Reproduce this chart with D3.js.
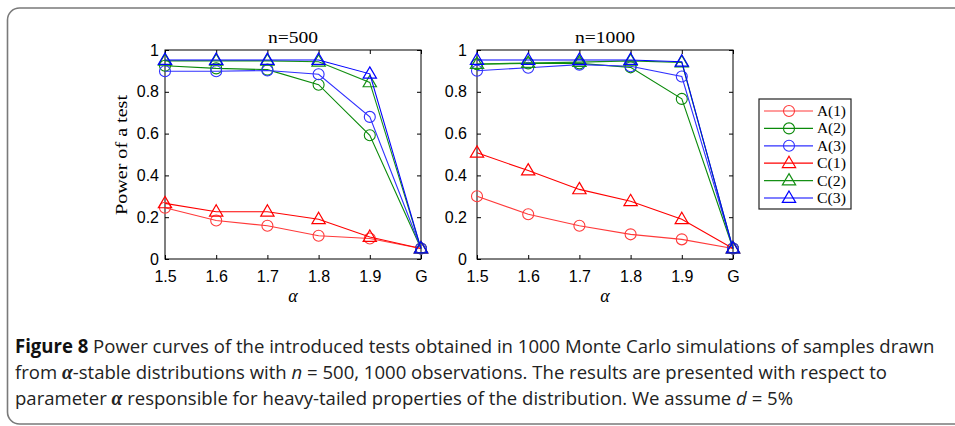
<!DOCTYPE html>
<html><head><meta charset="utf-8">
<script src="https://cdn.jsdelivr.net/npm/d3@7"></script>
<style>body{margin:0;background:#fff;}svg{display:block;}</style>
</head><body>
<svg id="c" width="955" height="426"></svg>
<script>
const categories = ["1.5","1.6","1.7","1.8","1.9","G"];
const yTicks = [0,0.2,0.4,0.6,0.8,1];
const yTickLabels = ["0","0.2","0.4","0.6","0.8","1"];
const seriesNames = ["A(1)","A(2)","A(3)","C(1)","C(2)","C(3)"];
const seriesColors = ["#ff3a3a","#0a8a0a","#3030ff","#ff0000","#159015","#0000ff"];
const seriesMarkers = ["circle","circle","circle","triangle","triangle","triangle"];
const panelTitles = ["n=500","n=1000"];

// n = 500
const a1_500 = [0.245,0.184,0.159,0.111,0.098,0.05];
const a2_500 = [0.925,0.912,0.906,0.834,0.592,0.05];
const a3_500 = [0.898,0.898,0.902,0.884,0.680,0.05];
const c1_500 = [0.266,0.226,0.226,0.190,0.105,0.05];
const c2_500 = [0.948,0.948,0.948,0.944,0.845,0.05];
const c3_500 = [0.952,0.952,0.952,0.952,0.886,0.05];
// n = 1000
const a1_1000 = [0.300,0.214,0.159,0.118,0.094,0.05];
const a2_1000 = [0.932,0.936,0.936,0.917,0.766,0.05];
const a3_1000 = [0.901,0.915,0.930,0.922,0.873,0.05];
const c1_1000 = [0.508,0.423,0.333,0.276,0.190,0.05];
const c2_1000 = [0.933,0.938,0.942,0.948,0.940,0.05];
const c3_1000 = [0.952,0.952,0.952,0.952,0.944,0.05];

const panelData = [
  [a1_500,a2_500,a3_500,c1_500,c2_500,c3_500],
  [a1_1000,a2_1000,a3_1000,c1_1000,c2_1000,c3_1000]
];

const svg = d3.select("#c");
const serif = "'Liberation Serif','DejaVu Serif',serif";
const sans = "'Liberation Sans',Arial,sans-serif";

svg.append("rect").attr("x",7.5).attr("y",8).attr("width",960).attr("height",416)
  .attr("rx",12).attr("fill","none").attr("stroke","#7a7a7a").attr("stroke-width",1.6);

const panels = [{x0:165,x1:421,labelGap:6},{x0:477,x1:733,labelGap:10}];
const yTop = 50, yBot = 259;
const y = d3.scaleLinear().domain([0,1]).range([yBot,yTop]);

function drawMarker(g, type, cx, cy, color){
  if(type==="circle"){
    g.append("circle").attr("cx",cx).attr("cy",cy).attr("r",5.5)
      .attr("fill","none").attr("stroke",color).attr("stroke-width",1.1);
  } else {
    const s = 7;
    g.append("path").attr("d",`M${cx},${cy-s}L${cx+s*0.95},${cy+s*0.62}L${cx-s*0.95},${cy+s*0.62}Z`)
      .attr("fill","none").attr("stroke",color).attr("stroke-width",1.2);
  }
}

panels.forEach((p,pi)=>{
  const x = d3.scalePoint().domain(categories).range([p.x0,p.x1]).padding(0);
  const g = svg.append("g");
  g.append("rect").attr("x",p.x0).attr("y",yTop).attr("width",p.x1-p.x0).attr("height",yBot-yTop)
    .attr("fill","none").attr("stroke","#000").attr("stroke-width",1);
  const ax = g.append("g").attr("transform",`translate(0,${yBot})`)
    .call(d3.axisBottom(x).tickSizeInner(-4).tickSizeOuter(0).tickPadding(12));
  const axT = g.append("g").attr("transform",`translate(0,${yTop})`)
    .call(d3.axisTop(x).tickSizeInner(-4).tickSizeOuter(0).tickFormat(""));
  const ay = g.append("g").attr("transform",`translate(${p.x0},0)`)
    .call(d3.axisLeft(y).tickValues(yTicks).tickFormat((d,i)=>yTickLabels[i]).tickSizeInner(-4).tickSizeOuter(0).tickPadding(p.labelGap));
  const ayR = g.append("g").attr("transform",`translate(${p.x1},0)`)
    .call(d3.axisRight(y).tickValues(yTicks).tickSizeInner(-4).tickSizeOuter(0).tickFormat(""));
  [ax,axT,ay,ayR].forEach(a=>{
    a.select(".domain").remove();
    a.selectAll("line").attr("stroke","#000");
    a.selectAll("text").attr("font-family",sans).attr("font-size",16).attr("fill","#000");
  });
  g.append("text").attr("x",(p.x0+p.x1)/2).attr("y",43).attr("text-anchor","middle")
    .attr("font-family",serif).attr("font-size",17)
    .attr("textLength",pi===0?50:60).attr("lengthAdjust","spacingAndGlyphs").text(panelTitles[pi]);
  g.append("text").attr("x",(p.x0+p.x1)/2).attr("y",302).attr("text-anchor","middle")
    .attr("font-family",serif).attr("font-style","italic").attr("font-size",18).text("α");
  if(pi===0){
    g.append("text").attr("transform",`translate(127,155) rotate(-90)`).attr("text-anchor","middle")
      .attr("font-family",serif).attr("font-size",17)
      .attr("textLength",120).attr("lengthAdjust","spacingAndGlyphs").text("Power of a test");
  }
  const line = d3.line().x((d,i)=>x(categories[i])).y(d=>y(d));
  panelData[pi].forEach((vals,si)=>{
    const sg = g.append("g");
    sg.append("path").attr("d",line(vals)).attr("fill","none")
      .attr("stroke",seriesColors[si]).attr("stroke-width",1.1);
    vals.forEach((v,i)=>drawMarker(sg,seriesMarkers[si],x(categories[i]),y(v),seriesColors[si]));
  });
});

const lg = svg.append("g");
lg.append("rect").attr("x",759).attr("y",99).attr("width",92).attr("height",110)
  .attr("fill","#fff").attr("stroke","#222").attr("stroke-width",1.2);
const legY = d3.scalePoint().domain(seriesNames).range([111,198]);
seriesNames.forEach((n,i)=>{
  const yy = legY(n);
  lg.append("line").attr("x1",764).attr("x2",813).attr("y1",yy).attr("y2",yy)
    .attr("stroke",seriesColors[i]).attr("stroke-width",1.2);
  drawMarker(lg,seriesMarkers[i],789,yy,seriesColors[i]);
  lg.append("text").attr("x",817).attr("y",yy+5).attr("font-family",serif).attr("font-size",15.5)
    .attr("textLength",29).attr("lengthAdjust","spacingAndGlyphs").text(n);
});

// caption: uniform horizontal condensing, computed from first line width
const capFont = "'Open Sans','Noto Sans',sans-serif";
const cap = svg.append("g").attr("font-family",capFont).attr("font-size",19).attr("fill","#222");
function capLine(yb, parts){
  const g = cap.append("g").attr("data-y",yb);
  const t = g.append("text").attr("x",0).attr("y",0);
  parts.forEach(([txt,style])=>{
    const s = t.append("tspan").text(txt);
    if(style==="b") s.attr("font-weight","bold").attr("fill","#111");
    if(style==="i") s.attr("font-style","italic");
    if(style==="a") s.attr("font-family",serif).attr("font-weight","bold").attr("font-style","italic").attr("font-size",20);
  });
  return {g, w:t.node().getComputedTextLength(), yb};
}
const lines = [
  capLine(353, [["Figure 8","b"],["  Power curves of the introduced tests obtained in 1000 Monte Carlo simulations of samples drawn",""]]),
  capLine(379, [["from ",""],["α","a"],["-stable distributions with ",""],["n","i"],[" = 500, 1000 observations. The results are presented with respect to",""]]),
  capLine(405, [["parameter ",""],["α","a"],[" responsible for heavy-tailed properties of the distribution. We assume ",""],["d","i"],[" = 5%",""]])
];
const sx = 920 / lines[0].w;
lines.forEach(l=>l.g.attr("transform",`translate(15,${l.yb}) scale(${sx},1)`));
</script>
</body></html>
